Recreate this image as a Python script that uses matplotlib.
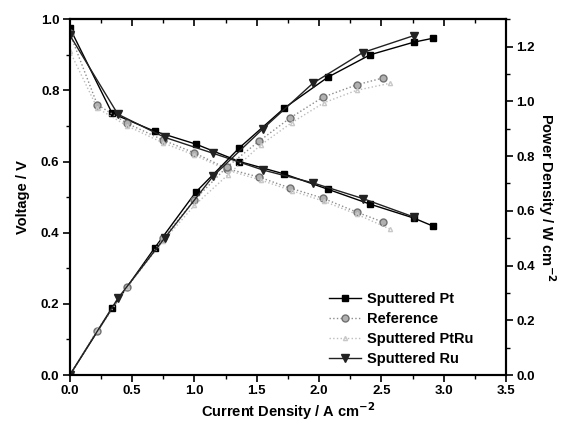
import matplotlib
matplotlib.use("Agg")
import matplotlib.pyplot as plt
from matplotlib.ticker import MultipleLocator

plt.rcParams['font.family'] = ['Liberation Sans', 'DejaVu Sans']
plt.rcParams['font.weight'] = 'bold'

# Sputtered Pt
pt_I = [0, 0.34, 0.68, 1.01, 1.36, 1.72, 2.07, 2.41, 2.76, 2.91]
pt_V = [0.975, 0.735, 0.685, 0.649, 0.600, 0.565, 0.522, 0.480, 0.441, 0.419]
pt_P = [0, 0.245, 0.464, 0.668, 0.83, 0.975, 1.088, 1.17, 1.216, 1.23]

# Reference
ref_I = [0, 0.22, 0.46, 0.75, 1.0, 1.26, 1.52, 1.77, 2.03, 2.30, 2.51]
ref_V = [0.96, 0.76, 0.707, 0.66, 0.624, 0.58, 0.556, 0.525, 0.497, 0.458, 0.43]
ref_P = [0, 0.16, 0.32, 0.50, 0.64, 0.76, 0.855, 0.94, 1.015, 1.06, 1.085]

# Sputtered PtRu
ptru_I = [0, 0.22, 0.46, 0.75, 1.0, 1.27, 1.53, 1.78, 2.04, 2.30, 2.57]
ptru_V = [0.91, 0.75, 0.70, 0.652, 0.618, 0.575, 0.548, 0.518, 0.488, 0.452, 0.41]
ptru_P = [0, 0.165, 0.322, 0.49, 0.62, 0.732, 0.84, 0.922, 0.995, 1.04, 1.066]

# Sputtered Ru
ru_I = [0, 0.385, 0.76, 1.15, 1.55, 1.95, 2.35, 2.76]
ru_V = [0.955, 0.733, 0.668, 0.623, 0.576, 0.540, 0.496, 0.444]
ru_P = [0, 0.28, 0.50, 0.727, 0.90, 1.066, 1.178, 1.24]

x_ticks = [0.0, 0.5, 1.0, 1.5, 2.0, 2.5, 3.0, 3.5]
v_ticks = [0.0, 0.2, 0.4, 0.6, 0.8, 1.0]
p_ticks = [0.0, 0.2, 0.4, 0.6, 0.8, 1.0, 1.2]

fig = plt.figure(figsize=(5.68, 4.26), dpi=100)
ax = fig.add_axes([0.123, 0.1197, 0.768, 0.8353])
ax2 = ax.twinx()

ref_style = dict(color='#8c8c8c', ls=':', lw=1.0, marker='o', ms=5,
                 mfc='#b0b0b0', mec='#707070')
ptru_style = dict(color='#bdbdbd', ls=':', lw=1.0, marker='^', ms=3,
                  mfc='none', mec='#c8c8c8')
pt_style = dict(color='black', ls='-', lw=1.0, marker='s', ms=5)
ru_style = dict(color='#222222', ls='-', lw=1.0, marker='v', ms=5.5)

ax.plot(pt_I, pt_V, label='Sputtered Pt', **pt_style)
ax.plot(ref_I, ref_V, label='Reference', **ref_style)
ax.plot(ptru_I, ptru_V, label='Sputtered PtRu', **ptru_style)
ax.plot(ru_I, ru_V, label='Sputtered Ru', **ru_style)

ax2.plot(pt_I, pt_P, **pt_style)
ax2.plot(ref_I, ref_P, **ref_style)
ax2.plot(ptru_I, ptru_P, **ptru_style)
ax2.plot(ru_I, ru_P, **ru_style)

ax.set_xlim(0, 3.5)
ax.set_ylim(0, 1.0)
ax2.set_ylim(0, 1.3)

ax.set_xticks(x_ticks)
ax.set_yticks(v_ticks)
ax2.set_yticks(p_ticks)
ax.xaxis.set_minor_locator(MultipleLocator(0.25))
ax.yaxis.set_minor_locator(MultipleLocator(0.1))
ax2.yaxis.set_minor_locator(MultipleLocator(0.1))

for a in (ax, ax2):
    for s in a.spines.values():
        s.set_linewidth(1.5)

ax.tick_params(axis='both', which='major', direction='out', length=5, width=1.2,
               labelsize=9.5, pad=2.5)
ax.tick_params(axis='both', which='minor', direction='out', length=3, width=1.0)
ax2.tick_params(axis='y', which='major', direction='out', length=5, width=1.2,
                labelsize=9.5, pad=2.5)
ax2.tick_params(axis='y', which='minor', direction='out', length=3, width=1.0)

# top axis with inward ticks
top = ax.secondary_xaxis('top')
top.set_xticks(x_ticks)
top.xaxis.set_minor_locator(MultipleLocator(0.25))
top.tick_params(axis='x', which='major', direction='in', length=5, width=1.2,
                labeltop=False)
top.tick_params(axis='x', which='minor', direction='in', length=3, width=1.0)
top.spines['top'].set_linewidth(1.5)

ax.set_xticklabels([f'{v:.1f}' for v in x_ticks], fontweight='bold')
ax.set_yticklabels([f'{v:.1f}' for v in v_ticks], fontweight='bold')
ax2.set_yticklabels([f'{v:.1f}' for v in p_ticks], fontweight='bold')

ax.set_xlabel('Current Density / A cm$^{\\mathbf{-2}}$', fontsize=10.5,
              fontweight='bold', labelpad=2)
ax.set_ylabel('Voltage / V', fontsize=10.5, fontweight='bold', labelpad=8)
ax2.set_ylabel('Power Density / W cm$^{\\mathbf{-2}}$', fontsize=10.5,
               fontweight='bold', rotation=270, labelpad=16)

leg = ax.legend(loc='lower right', bbox_to_anchor=(0.945, 0.0), frameon=False,
                fontsize=10.5, handlelength=2.2, handletextpad=0.4,
                labelspacing=0.42, borderaxespad=0.2)
for t in leg.get_texts():
    t.set_fontweight('bold')

fig.savefig('out.png', dpi=100)
